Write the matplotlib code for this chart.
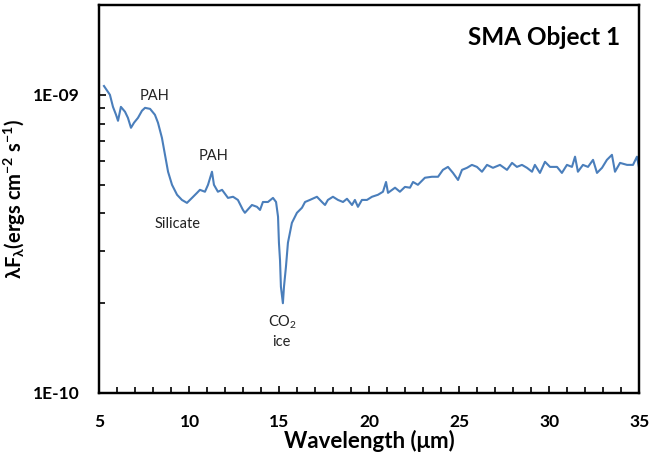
import matplotlib
matplotlib.use('Agg')
import matplotlib.pyplot as plt
from matplotlib.ticker import FixedLocator, FuncFormatter, MultipleLocator, LogLocator, NullFormatter

plt.rcParams['font.family'] = ['Lato', 'DejaVu Sans']
plt.rcParams['mathtext.default'] = 'regular'

# spectrum (wavelength in micron, flux in 1e-9 ergs cm-2 s-1)
wavelength = [5.25, 5.58, 5.75, 5.92, 6.03, 6.19, 6.42, 6.58, 6.75, 6.92, 7.14, 7.36,
              7.53, 7.81, 8.08, 8.25, 8.47, 8.64, 8.81, 9.03, 9.31, 9.58, 9.86, 10.14,
              10.42, 10.58, 10.86, 11.03, 11.25, 11.36, 11.58, 11.81, 12.14, 12.42, 12.69,
              12.97, 13.08, 13.47, 13.75, 13.92, 14.08, 14.36, 14.64, 14.81, 14.92, 14.97,
              15.03, 15.08, 15.19, 15.25, 15.36, 15.47, 15.69, 15.97, 16.25, 16.42, 16.69,
              17.08, 17.36, 17.53, 17.69, 17.97, 18.25, 18.53, 18.75, 19.03, 19.19, 19.36,
              19.58, 19.86, 20.14, 20.47, 20.75, 20.92, 21.03, 21.42, 21.69, 21.97, 22.25,
              22.42, 22.69, 23.08, 23.47, 23.81, 24.08, 24.36, 24.64, 24.92, 25.14, 25.42,
              25.69, 25.97, 26.25, 26.53, 26.86, 27.25, 27.64, 27.92, 28.19, 28.47, 28.75,
              29.03, 29.19, 29.47, 29.75, 30.03, 30.42, 30.69, 30.97, 31.25, 31.42, 31.58,
              31.86, 32.14, 32.42, 32.64, 32.92, 33.19, 33.47, 33.64, 33.92, 34.31, 34.64,
              34.86, 35.0]
flux = [1.07, 1.00, 0.911, 0.857, 0.818, 0.911, 0.877, 0.837, 0.775, 0.806, 0.837, 0.884,
        0.904, 0.897, 0.857, 0.806, 0.717, 0.629, 0.552, 0.499, 0.462, 0.444, 0.434, 0.451,
        0.469, 0.480, 0.473, 0.499, 0.552, 0.499, 0.473, 0.480, 0.451, 0.455, 0.444,
        0.411, 0.402, 0.427, 0.421, 0.411, 0.437, 0.437, 0.451, 0.437, 0.390, 0.319,
        0.279, 0.227, 0.200, 0.227, 0.265, 0.319, 0.372, 0.402, 0.418, 0.437, 0.444,
        0.455, 0.437, 0.427, 0.444, 0.455, 0.444, 0.437, 0.448, 0.427, 0.444, 0.421,
        0.444, 0.444, 0.455, 0.462, 0.473, 0.510, 0.469, 0.488, 0.473, 0.491, 0.488,
        0.510, 0.499, 0.527, 0.531, 0.531, 0.560, 0.573, 0.547, 0.518, 0.560, 0.569,
        0.582, 0.573, 0.552, 0.582, 0.569, 0.582, 0.560, 0.591, 0.573, 0.582, 0.569,
        0.552, 0.582, 0.547, 0.596, 0.573, 0.573, 0.547, 0.582, 0.573, 0.620, 0.552,
        0.582, 0.573, 0.605, 0.547, 0.569, 0.605, 0.629, 0.552, 0.591, 0.582, 0.582,
        0.620, 0.560]

labels = ['PAH', 'PAH', 'Silicate', 'CO$_2$', 'ice']
label_x = [8.08, 11.36, 9.36, 15.14, 15.10]
label_y = [0.992, 0.624, 0.369, 0.173, 0.148]

fig = plt.figure(figsize=(6.51, 4.59), dpi=100)
ax = fig.add_axes([0.1528, 0.1438, 0.8295, 0.8453])

ax.plot(wavelength, [f * 1e-9 for f in flux], color='#4a7ebb', linewidth=1.5)

for t, x, y in zip(labels, label_x, label_y):
    ax.text(x, y * 1e-9, t, fontsize=10.5, ha='center', va='center', color='#222222')

ax.text(0.965, 0.915, 'SMA Object 1', transform=ax.transAxes, fontsize=17.5,
        fontweight='bold', ha='right', va='center')

ax.set_yscale('log')
ax.set_xlim(5, 35)
ax.set_ylim(1e-10, 2e-9)

ax.xaxis.set_major_locator(MultipleLocator(5))
ax.xaxis.set_minor_locator(MultipleLocator(1))
ax.yaxis.set_major_locator(FixedLocator([1e-10, 1e-9]))
ax.yaxis.set_major_formatter(FuncFormatter(lambda v, p: '1E-10' if v < 5e-10 else '1E-09'))
ax.yaxis.set_minor_locator(LogLocator(base=10, subs=range(2, 10)))
ax.yaxis.set_minor_formatter(NullFormatter())

ax.tick_params(which='both', direction='in', top=False, right=False, width=1.2)
ax.tick_params(which='major', length=5, labelsize=12.5)
ax.tick_params(axis='y', which='major', pad=14)
ax.tick_params(axis='x', which='major', pad=15)
ax.tick_params(which='minor', length=4)
for lab in ax.get_xticklabels() + ax.get_yticklabels():
    lab.set_fontweight('bold')

for s in ax.spines.values():
    s.set_linewidth(1.75)

ax.set_xlabel('Wavelength (μm)', fontsize=16, fontweight='bold', labelpad=0)
ax.set_ylabel('λF$_λ$(ergs cm$^{-2}$ s$^{-1}$)', fontsize=14.5, fontweight='bold', labelpad=4)

plt.savefig('out.png', dpi=100)
